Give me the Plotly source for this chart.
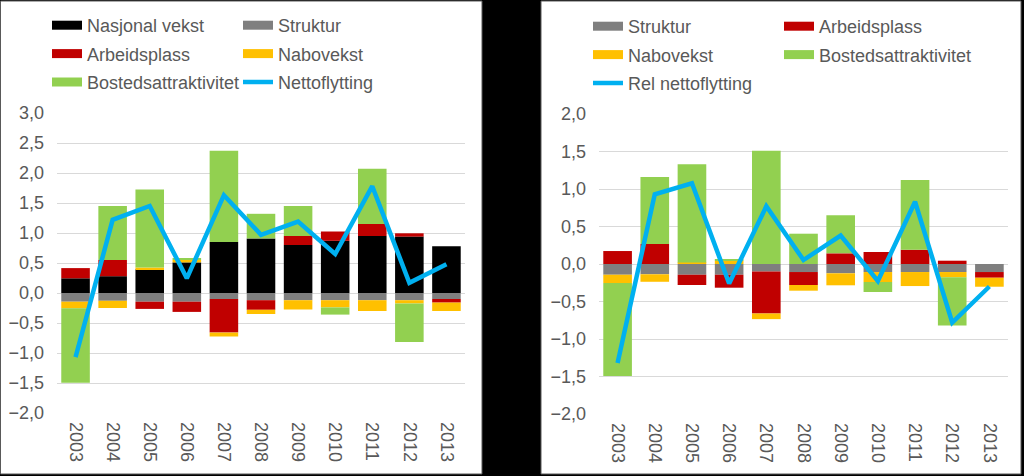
import plotly.graph_objects as go

years = ['2003', '2004', '2005', '2006', '2007', '2008', '2009', '2010', '2011', '2012', '2013']

# Left panel
nasjonal_vekst = [0.245, 0.28, 0.395, 0.51, 0.85, 0.91, 0.80, 0.87, 0.95, 0.94, 0.78]
struktur_l = [-0.145, -0.13, -0.145, -0.145, -0.10, -0.12, -0.12, -0.12, -0.12, -0.12, -0.10]
arbeidsplass_l = [0.17, 0.27, -0.12, -0.17, -0.56, -0.16, 0.15, 0.155, 0.20, 0.055, -0.06]
nabovekst_l = [-0.11, -0.12, 0.03, 0.04, -0.065, -0.07, -0.155, -0.12, -0.18, -0.055, -0.14]
bosted_l = [-1.24, 0.90, 1.30, 0.02, 1.52, 0.41, 0.50, -0.12, 0.92, -0.64, 0.0]
nettoflytting = [-1.07, 1.22, 1.45, 0.245, 1.63, 0.97, 1.19, 0.65, 1.78, 0.17, 0.48]

# Right panel
struktur_r = [-0.143, -0.137, -0.143, -0.143, -0.10, -0.107, -0.124, -0.107, -0.107, -0.107, -0.107]
arbeidsplass_r = [0.173, 0.267, -0.137, -0.173, -0.56, -0.173, 0.142, 0.16, 0.19, 0.044, -0.076]
nabovekst_r = [-0.11, -0.10, 0.02, 0.044, -0.075, -0.076, -0.16, -0.133, -0.187, -0.07, -0.12]
bosted_r = [-1.24, 0.893, 1.31, 0.02, 1.51, 0.404, 0.507, -0.133, 0.93, -0.643, 0.0]
rel_nettoflytting = [-1.32, 0.93, 1.076, -0.26, 0.77, 0.053, 0.38, -0.227, 0.83, -0.78, -0.30]

C_BLACK = '#000000'
C_GRAY = '#7F7F7F'
C_RED = '#C00000'
C_YEL = '#FFC000'
C_GRN = '#92D050'
C_BLUE = '#00B0F0'
TXT = '#595959'
FONT = 'Liberation Sans, Arial, sans-serif'

W, H = 1024, 476

def px_x(p):
    return p / W

def px_y(p):
    return 1 - p / H

fig = go.Figure()

left_bars = [
    ('Nasjonal vekst', nasjonal_vekst, C_BLACK),
    ('Struktur', struktur_l, C_GRAY),
    ('Arbeidsplass', arbeidsplass_l, C_RED),
    ('Nabovekst', nabovekst_l, C_YEL),
    ('Bostedsattraktivitet', bosted_l, C_GRN),
]
for name, vals, col in left_bars:
    fig.add_trace(go.Bar(x=years, y=vals, name=name, marker=dict(color=col, line=dict(width=0)),
                         xaxis='x', yaxis='y', showlegend=False))
fig.add_trace(go.Scatter(x=years, y=nettoflytting, mode='lines', name='Nettoflytting',
                         line=dict(color=C_BLUE, width=4.5), xaxis='x', yaxis='y', showlegend=False))

right_bars = [
    ('Struktur', struktur_r, C_GRAY),
    ('Arbeidsplass', arbeidsplass_r, C_RED),
    ('Nabovekst', nabovekst_r, C_YEL),
    ('Bostedsattraktivitet', bosted_r, C_GRN),
]
for name, vals, col in right_bars:
    fig.add_trace(go.Bar(x=years, y=vals, name=name, marker=dict(color=col, line=dict(width=0)),
                         xaxis='x2', yaxis='y2', showlegend=False))
fig.add_trace(go.Scatter(x=years, y=rel_nettoflytting, mode='lines', name='Rel nettoflytting',
                         line=dict(color=C_BLUE, width=4.5), xaxis='x2', yaxis='y2', showlegend=False))

# Legend entries (wide rectangle symbols)
_k = [0]
def legend_entry(name, col, width, legend, xa, ya):
    _k[0] += 1
    fig.add_trace(go.Scatter(x=[None], y=[None], mode='lines', name=name,
                             line=dict(color=col, width=width), legend=legend,
                             legendgroup='g%d' % _k[0],
                             xaxis=xa, yaxis=ya, hoverinfo='skip'))

legend_entry('Nasjonal vekst', C_BLACK, 9, 'legend', 'x', 'y')
legend_entry('Arbeidsplass', C_RED, 9, 'legend', 'x', 'y')
legend_entry('Bostedsattraktivitet', C_GRN, 9, 'legend', 'x', 'y')
legend_entry('Struktur', C_GRAY, 9, 'legend2', 'x', 'y')
legend_entry('Nabovekst', C_YEL, 9, 'legend2', 'x', 'y')
legend_entry('Nettoflytting', C_BLUE, 4.5, 'legend2', 'x', 'y')
legend_entry('Struktur', C_GRAY, 9, 'legend3', 'x2', 'y2')
legend_entry('Nabovekst', C_YEL, 9, 'legend3', 'x2', 'y2')
legend_entry('Rel nettoflytting', C_BLUE, 4.5, 'legend3', 'x2', 'y2')
legend_entry('Arbeidsplass', C_RED, 9, 'legend4', 'x2', 'y2')
legend_entry('Bostedsattraktivitet', C_GRN, 9, 'legend4', 'x2', 'y2')

def leg(xp, yp):
    return dict(x=px_x(xp), y=px_y(yp), xanchor='left', yanchor='top', orientation='v',
                bgcolor='rgba(0,0,0,0)', borderwidth=0, tracegroupgap=2,
                font=dict(family=FONT, size=18, color=TXT), traceorder='grouped',
                itemclick=False, itemdoubleclick=False)

axis_common = dict(showline=False, zeroline=False, ticks='', automargin=False,
                   tickfont=dict(family=FONT, size=18, color=TXT))

fig.update_layout(
    width=W, height=H,
    margin=dict(l=0, r=0, t=0, b=0),
    paper_bgcolor='#000000',
    plot_bgcolor='rgba(0,0,0,0)',
    barmode='relative',
    bargap=0.23,
    separators=', ',
    font=dict(family=FONT, size=18, color=TXT),
    showlegend=True,
    legend=leg(47, 7),
    legend2=leg(238, 7),
    legend3=leg(588, 8),
    legend4=leg(779, 8),
    xaxis=dict(domain=[px_x(57), px_x(465)], anchor='y', type='category', tickangle=90,
               showgrid=False, ticklabelstandoff=8, **axis_common),
    yaxis=dict(domain=[px_y(413), px_y(113)], anchor='x', range=[-2, 3], dtick=0.5,
               tickformat='.1f', showgrid=True, gridcolor='#D9D9D9', gridwidth=1,
               ticklabelstandoff=12, **axis_common),
    xaxis2=dict(domain=[px_x(599), px_x(1008)], anchor='y2', type='category', tickangle=90,
                showgrid=False, ticklabelstandoff=8, **axis_common),
    yaxis2=dict(domain=[px_y(414), px_y(114)], anchor='x2', range=[-2, 2], dtick=0.5,
                tickformat='.1f', showgrid=True, gridcolor='#D9D9D9', gridwidth=1,
                ticklabelstandoff=12, **axis_common),
    shapes=[
        dict(type='rect', xref='paper', yref='paper', layer='below',
             x0=px_x(0.5), x1=px_x(482), y0=px_y(474), y1=px_y(1),
             fillcolor='white', line=dict(color='#595959', width=1)),
        dict(type='rect', xref='paper', yref='paper', layer='below',
             x0=px_x(541), x1=px_x(1021), y0=px_y(474), y1=px_y(1),
             fillcolor='white', line=dict(color='#595959', width=1)),
    ],
)

fig.write_html('out.html', config={'displayModeBar': False},
               post_script="document.body.style.margin='0';document.body.style.overflow='hidden';")
